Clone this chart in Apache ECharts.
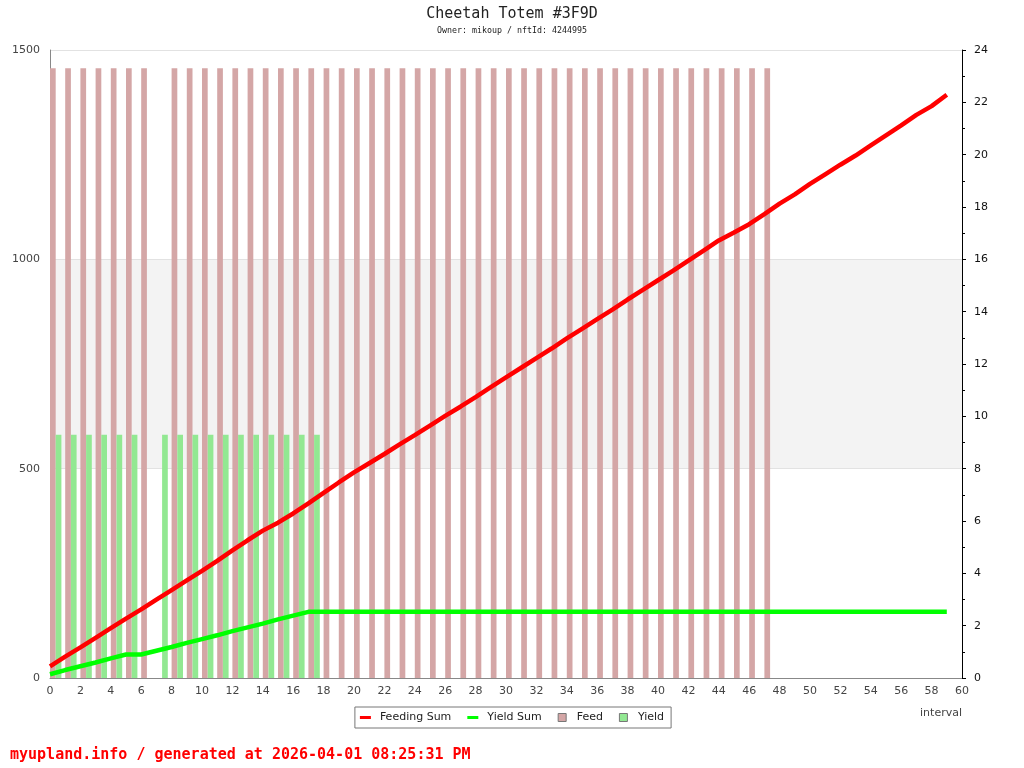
<!DOCTYPE html>
<html>
<head>
<meta charset="utf-8">
<script src="https://cdn.jsdelivr.net/npm/echarts@6/dist/echarts.min.js"></script>
<style>
html,body{margin:0;padding:0;background:#fff;}
#chart{width:1024px;height:768px;}
</style>
</head>
<body>
<div id="chart"></div>
<script>
// ---- data ----
var intervals = [0,1,2,3,4,5,6,7,8,9,10,11,12,13,14,15,16,17,18,19,20,21,22,23,24,25,26,27,28,29,
  30,31,32,33,34,35,36,37,38,39,40,41,42,43,44,45,46,47,48,49,50,51,52,53,54,55,56,57,58,59];
var feedingSum = [28,51,73,96,119,142,164,187,210,233,256,280,305,329,352,371,393,417,442,467,
  491,513,535,558,580,603,626,648,671,695,718,741,764,787,811,834,857,880,904,927,
  950,973,997,1021,1045,1064,1084,1108,1133,1155,1180,1203,1226,1248,1272,1296,1320,1345,1366,1393];
var yieldSum = [9,19,28,37,47,56,56,65,74,84,93,102,112,121,130,140,149,158,158,158,
  158,158,158,158,158,158,158,158,158,158,158,158,158,158,158,158,158,158,158,158,
  158,158,158,158,158,158,158,158,158,158,158,158,158,158,158,158,158,158,158,158];
var feedIntervals = [0,1,2,3,4,5,6,8,9,10,11,12,13,14,15,16,17,18,19,20,21,22,23,24,25,26,27,
  28,29,30,31,32,33,34,35,36,37,38,39,40,41,42,43,44,45,46,47];
var feedValues = [23.3,23.3,23.3,23.3,23.3,23.3,23.3,23.3,23.3,23.3,23.3,23.3,23.3,23.3,23.3,23.3,
  23.3,23.3,23.3,23.3,23.3,23.3,23.3,23.3,23.3,23.3,23.3,23.3,23.3,23.3,23.3,23.3,23.3,23.3,23.3,
  23.3,23.3,23.3,23.3,23.3,23.3,23.3,23.3,23.3,23.3,23.3,23.3];
var yieldIntervals = [0,1,2,3,4,5,7,8,9,10,11,12,13,14,15,16,17];
var yieldValues = [9.3,9.3,9.3,9.3,9.3,9.3,9.3,9.3,9.3,9.3,9.3,9.3,9.3,9.3,9.3,9.3,9.3];
var leftTicks = [0,1500,500];   // min, max, step
var rightTicks = [0,24,2];
var xTicks = [0,60,2];

function pairs(xs, ys){ return xs.map(function(x,i){ return [x, ys[i]]; }); }

var chart = echarts.init(document.getElementById('chart'), null, {renderer:'canvas'});
var labelFont = 'DejaVu Sans';
var option = {
  animation: false,
  backgroundColor: '#fff',
  title: {
    text: 'Cheetah Totem #3F9D',
    subtext: 'Owner: mikoup / nftId: 4244995',
    left: 'center', top: 2, itemGap: 5,
    textStyle: {fontFamily:'DejaVu Sans Mono', fontSize:15, fontWeight:'normal', color:'#222'},
    subtextStyle: {fontFamily:'DejaVu Sans Mono', fontSize:8.3, color:'#222'}
  },
  legend: {
    left: 'center', top: 707, orient: 'horizontal',
    padding: [5, 7, 5, 5],
    borderColor: '#777', borderWidth: 1, backgroundColor:'#fff',
    itemWidth: 11, itemHeight: 8, itemGap: 16,
    textStyle: {fontFamily: labelFont, fontSize: 11, color:'#222', padding:[0,0,0,4]},
    data: [
      {name:'Feeding Sum', icon:'path://M0,0h11v3h-11z', itemStyle:{color:'#ff0000', borderWidth:0}},
      {name:'Yield Sum', icon:'path://M0,0h11v3h-11z', itemStyle:{color:'#00ff00', borderWidth:0}},
      {name:'Feed', icon:'path://M0,0h8v8h-8z', itemStyle:{borderColor:'#777', borderWidth:1}},
      {name:'Yield', icon:'path://M0,0h8v8h-8z', itemStyle:{borderColor:'#777', borderWidth:1}}
    ]
  },
  grid: {left: 50, right: 62, top: 50, bottom: 90, containLabel:false, outerBoundsMode:'none'},
  xAxis: [
    {
      type:'value', min:xTicks[0], max:xTicks[1], interval:xTicks[2],
      name:'interval', nameLocation:'end', nameGap:0,
      nameTextStyle:{fontFamily:labelFont, fontSize:11, color:'#444', align:'right', verticalAlign:'top', padding:[30,0,0,0]},
      axisLine:{show:true, onZero:false, lineStyle:{color:'#888', width:1}},
      axisTick:{show:false},
      axisLabel:{fontFamily:labelFont, fontSize:11, color:'#444', margin:8},
      splitLine:{show:false}
    },
    {
      type:'value', min:-0.375, max:59.625, show:false,
      axisLine:{show:false, onZero:false}, splitLine:{show:false}
    }
  ],
  yAxis: [
    {
      type:'value', min:leftTicks[0], max:leftTicks[1], interval:leftTicks[2], position:'left',
      axisLine:{show:true, onZero:false, lineStyle:{color:'#888', width:1}},
      axisTick:{show:false},
      axisLabel:{fontFamily:labelFont, fontSize:11, color:'#444', margin:10,
        formatter:function(v){ return String(v); }},
      splitLine:{show:true, lineStyle:{color:'#e2e2e2', width:1}},
      splitArea:{show:true, areaStyle:{color:['rgba(255,255,255,0)','#f3f3f3']}}
    },
    {
      type:'value', min:rightTicks[0], max:rightTicks[1], interval:rightTicks[2], position:'right',
      axisLine:{show:true, onZero:false, lineStyle:{color:'#000', width:1}},
      axisTick:{show:true, length:4, lineStyle:{color:'#000'}},
      minorTick:{show:true, splitNumber:2, length:3, lineStyle:{color:'#000'}},
      axisLabel:{fontFamily:labelFont, fontSize:11, color:'#111', margin:12},
      splitLine:{show:false}
    }
  ],
  series: [
    {
      name:'Feed', type:'bar', xAxisIndex:1, yAxisIndex:1,
      data: pairs(feedIntervals, feedValues),
      barWidth: 5.7, barGap:'0%',
      itemStyle:{color:'#d4a6a6'}, z:2
    },
    {
      name:'Yield', type:'bar', xAxisIndex:1, yAxisIndex:1,
      data: pairs(yieldIntervals, yieldValues),
      barWidth: 5.7, barGap:'0%',
      itemStyle:{color:'#92e892'}, z:2
    },
    {
      name:'Feeding Sum', type:'line', xAxisIndex:0, yAxisIndex:0,
      data: pairs(intervals, feedingSum),
      symbol:'none', lineStyle:{color:'#ff0000', width:4.5}, itemStyle:{color:'#ff0000'}, z:4
    },
    {
      name:'Yield Sum', type:'line', xAxisIndex:0, yAxisIndex:0,
      data: pairs(intervals, yieldSum),
      symbol:'none', lineStyle:{color:'#00ff00', width:4.5}, itemStyle:{color:'#00ff00'}, z:3
    }
  ],
  graphic: [
    {
      type:'text', left: 10, top: 748,
      style:{text:'myupland.info / generated at 2026-04-01 08:25:31 PM', fill:'#ff0000',
        font:'bold 15px "DejaVu Sans Mono"'}
    }
  ]
};
chart.setOption(option);
</script>
</body>
</html>
